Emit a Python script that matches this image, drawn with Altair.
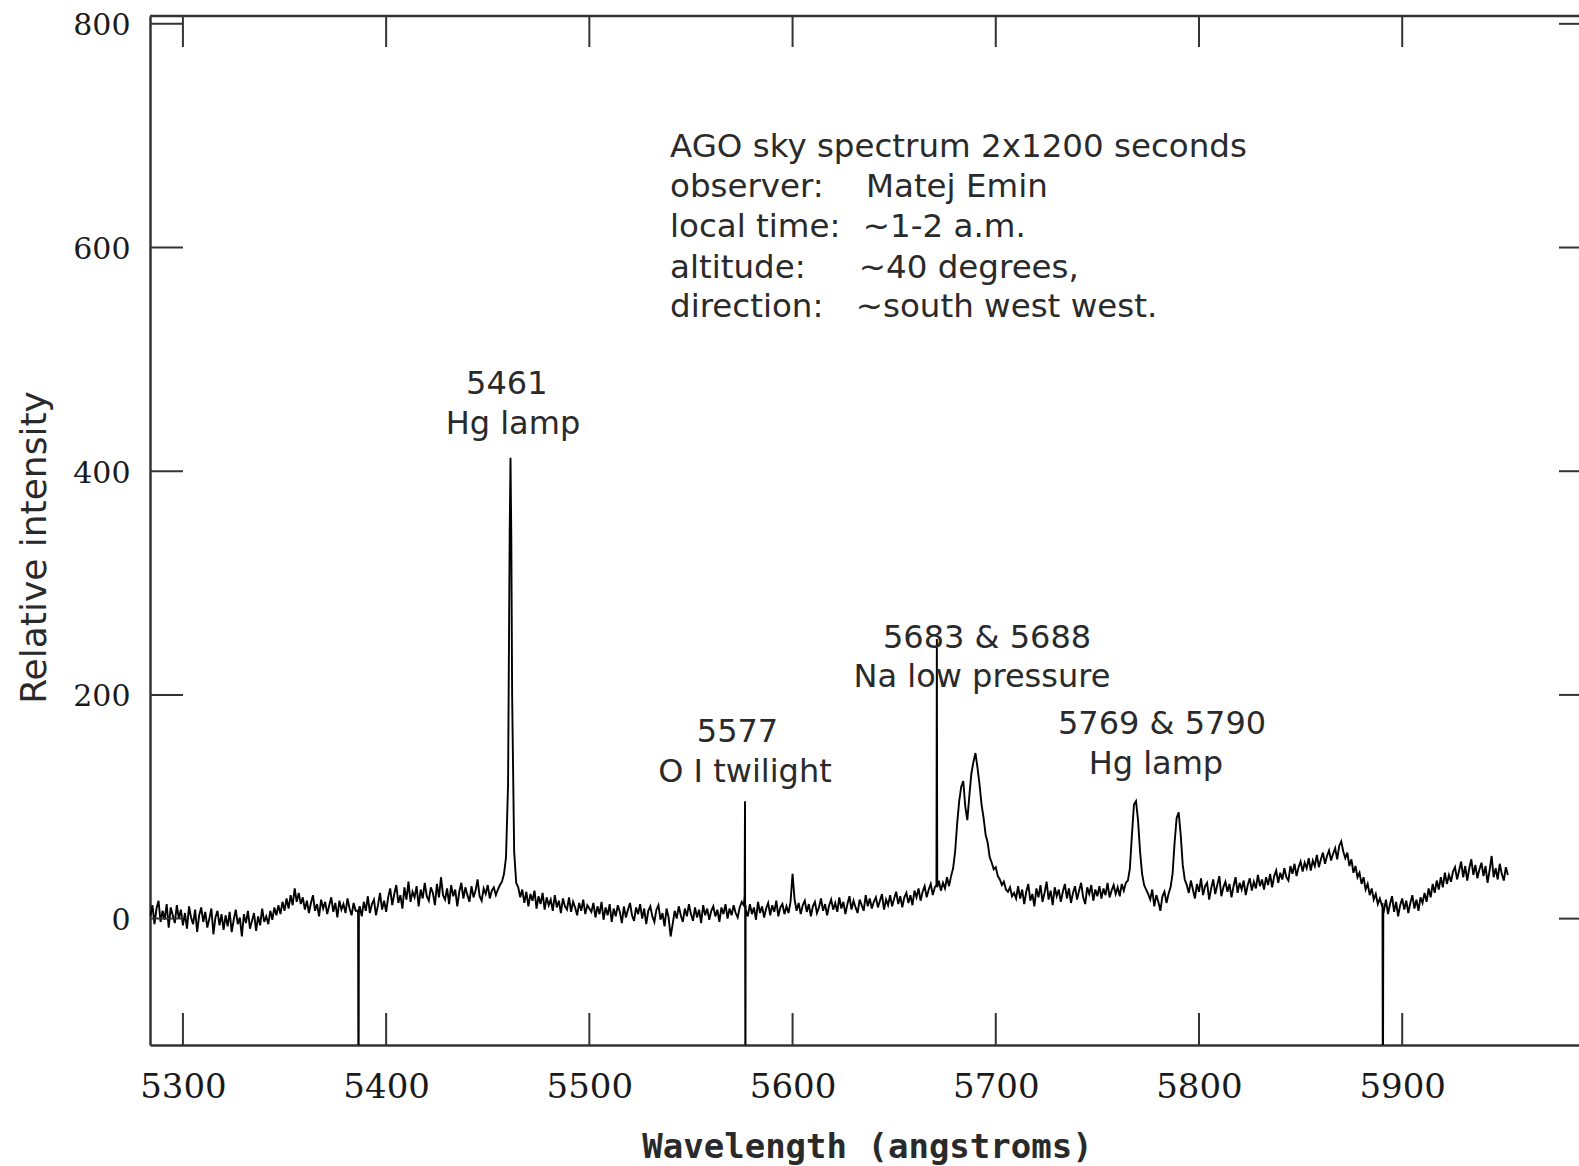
import altair as alt
import pandas as pd

# ---------------- data ----------------
# spectrum sampled every angstrom, one list per contiguous stretch (start wavelength, values)
seg_starts = [5284, 5301, 5321, 5341, 5359, 5387, 5401, 5421, 5441, 5458, 5462,
              5465, 5481, 5501, 5521, 5541, 5561, 5577, 5601, 5621, 5641, 5661,
              5672, 5711, 5731, 5751, 5766, 5775, 5787, 5795, 5815, 5831, 5851,
              5871, 5891, 5911, 5926]
seg_values = [
    [2, 12, -5, 9, 16, -3, 7, -1, 13, -8, 10, 3, -4, 12, 0, 8, -6],
    [5, -9, 11, 1, -5, 8, -12, 3, 10, -3, 6, -8, 0, 9, -14, 1, 7, -6, 4, -10],
    [3, -7, 6, -12, -1, 8, -5, 1, -16, 4, -4, 7, -9, -2, 5, -11, 2, -6, 9, -3],
    [2, -5, 7, -1, 10, 3, 12, 4, 15, 7, 18, 9, 21, 12, 27, 15, 23, 13],
    [19, 8, 16, 5, 14, 21, 7, 13, 2, 17, 9, 15, 4, 12, 19, 6, 14, 1, 16, 8,
     13, 5, 18, 9, 3, 14, 7, 7],
    [11, 2, 15, 7, 20, 5, 13, 17, 3, 12, 23, 8, 16, 6],
    [19, 27, 12, 22, 30, 14, 21, 9, 28, 17, 33, 15, 24, 19, 29, 11, 26, 18, 32, 20],
    [16, 28, 23, 12, 31, 19, 37, 21, 17, 27, 13, 30, 20, 26, 11, 24, 32, 18, 28, 21],
    [15, 29, 19, 25, 35, 20, 16, 27, 22, 30, 18, 25, 28, 21, 26, 30, 33],
    [40, 55, 120],
    [200, 60, 32],
    [28, 19, 26, 14, 24, 11, 22, 16, 25, 9, 20, 13, 23, 8, 19, 12],
    [17, 7, 21, 10, 16, 5, 18, 11, 8, 19, 6, 15, 10, 3, 14, 7, 17, 4, 12, 9],
    [6, 14, 1, 11, 4, 15, -1, 10, 3, 13, -3, 9, 2, 12, 6, -4, 11, 1, 8, 14],
    [3, -2, 10, 4, 13, 0, 9, -5, 7, 11, 2, -3, 8, 12, -1, 5, -7, 9, 1, -16],
    [-5, 7, 0, 11, 3, -3, 9, 2, 13, 4, -2, 10, 1, 8, -4, 12, 3, 9, -1, 7],
    [11, 2, 8, -3, 10, 4, 13, 0, 9, 3, 12, 5, 1, 10, 15, 12],
    [8, 2, 13, 4, 10, -1, 15, 5, 11, 1, 9, 14, 3, 12, 6, 16, 2, 10, 13, 4, 11, 5, 15, 40],
    [17, 7, 14, 4, 12, 16, 6, 13, 2, 11, 15, 5, 10, 18, 7, 13, 3, 12, 17, 8],
    [14, 6, 19, 9, 15, 4, 13, 20, 8, 16, 10, 5, 17, 12, 7, 21, 11, 18, 9, 15],
    [19, 10, 16, 22, 8, 17, 12, 21, 11, 18, 24, 13, 20, 10, 19, 23, 14, 21, 12, 25],
    [19, 27, 16, 24, 29, 19, 26, 31, 21, 28],
    [34, 25, 32, 27, 37, 29, 38, 45, 60, 85, 105, 118, 123, 100, 88, 110, 130, 140,
     148, 135, 120, 102, 90, 75, 68, 55, 50, 44, 46, 38, 35, 30, 33, 26, 24, 28, 20,
     23, 18],
    [29, 18, 26, 13, 24, 31, 16, 22, 11, 27, 19, 30, 15, 23, 33, 17, 25, 12, 28, 20],
    [26, 15, 24, 31, 18, 27, 14, 23, 29, 17, 25, 32, 19, 13, 28, 22, 30, 16, 26, 20],
    [29, 18, 27, 21, 32, 19, 25, 30, 22, 28, 20, 31, 25, 32, 34],
    [45, 75, 102, 105, 88, 60, 40, 30, 26],
    [22, 17, 26, 11, 21, 15, 7, 20, 24, 14, 22, 28],
    [40, 68, 90, 95, 75, 48, 35, 30],
    [23, 34, 26, 18, 31, 24, 36, 21, 29, 32, 17, 27, 35, 22, 30, 38, 20, 28, 33, 24],
    [31, 19, 29, 37, 23, 32, 26, 34, 21, 30, 36, 25, 33, 27, 39, 29],
    [35, 26, 37, 30, 40, 28, 38, 43, 32, 41, 35, 45, 37, 34, 47, 40, 49, 38, 46, 51],
    [42, 50, 45, 54, 43, 52, 47, 57, 46, 53, 59, 49, 56, 61, 52, 58, 63, 53, 65, 69],
    [60, 54, 59, 47, 53, 41, 47, 37, 41, 31, 37, 26, 31, 21, 27, 17, 22, 13, 18, 12],
    [7, 17, 4, 13, 20, 6, 15, 2, 12, 18, 8, 16, 5, 14, 21, 9, 17, 7, 19, 14],
    [23, 15, 27, 19, 31, 23, 34, 26, 37, 28, 41, 31, 39, 33, 42],
    [46, 35, 43, 51, 37, 47, 34, 45, 53, 39, 48, 36, 44, 50, 38, 47, 32, 43, 56, 37,
     45, 35, 49, 40, 34, 46, 39],
]
SAMPLE_STEP = 1

# narrow lines and dead columns (finer sampling)
feat_wl = [5386.2, 5386.4, 5386.6, 5460.8, 5461.2, 5461.6, 5576.4, 5576.6, 5576.8,
           5576.9, 5670.8, 5671.0, 5671.2, 5890.3, 5890.5, 5890.7]
feat_val = [5, -200, 8, 345, 412, 340, 20, 105, -200, 12, 30, 250, 28, 14, -200, 8]

x_tick_values = [5300, 5400, 5500, 5600, 5700, 5800, 5900]
y_tick_values = [0, 200, 400, 600, 800]

info_labels = ["AGO sky spectrum 2x1200 seconds", "observer:", "local time:",
               "altitude:", "direction:"]
info_label_wl = [5539.7, 5539.7, 5539.7, 5539.7, 5539.7]
info_label_val = [681, 645, 609, 573, 538]
info_values = ["Matej Emin", "~1-2 a.m.", "~40 degrees,", "~south west west."]
info_value_wl = [5636.1, 5634.6, 5632.6, 5631.1]
info_value_val = [645, 609, 573, 538]

line_label_text = ["5461", "Hg lamp", "5577", "O I twilight", "5683 & 5688",
                   "Na low pressure", "5769 & 5790", "Hg lamp"]
line_label_wl = [5459.4, 5462.4, 5572.9, 5576.6, 5695.7, 5693.2, 5781.8, 5778.8]
line_label_val = [469.1, 433.4, 157.9, 122.1, 242.0, 207.0, 165.2, 129.4]

# ---------------- tables ----------------
wl, val = [], []
for s, vals in zip(seg_starts, seg_values):
    for i, v in enumerate(vals):
        wl.append(s + SAMPLE_STEP * i)
        val.append(v)
wl += feat_wl
val += feat_val
spec_df = pd.DataFrame({"wl": wl, "val": val}).sort_values("wl").reset_index(drop=True)

info_df = pd.DataFrame({"wl": info_label_wl + info_value_wl,
                        "val": info_label_val + info_value_val,
                        "label": info_labels + info_values})
lines_df = pd.DataFrame({"wl": line_label_wl, "val": line_label_val, "label": line_label_text})
xt_df = pd.DataFrame({"wl": x_tick_values})
yt_df = pd.DataFrame({"val": y_tick_values})
one_df = pd.DataFrame({"a": [0]})

# ---------------- chart ----------------
W, H = 1429, 1029
AX = "#333333"
TXT = "#2a2a2a"
x_scale = alt.Scale(domain=[5283.8, 5987], nice=False, zero=False)
y_scale = alt.Scale(domain=[-113, 807], nice=False, zero=False)

x_axis = alt.Axis(values=x_tick_values, grid=False, ticks=False, tickSize=0,
                  domain=True, domainColor=AX, domainWidth=2.5,
                  labelFont="DejaVu Serif", labelFontSize=34, labelFontWeight=500,
                  labelColor="#1a1a1a", labelPadding=25, labelFlush=False,
                  labelOverlap=False, format="d",
                  title="Wavelength (angstroms)", titleFont="DejaVu Sans Mono",
                  titleFontWeight="bold", titleFontSize=34, titleColor=TXT,
                  titleX=717, titleY=112, titleBaseline="alphabetic", titleAlign="center")
y_axis = alt.Axis(values=y_tick_values, grid=False, ticks=False, tickSize=0,
                  domain=True, domainColor=AX, domainWidth=2.5,
                  labelFont="DejaVu Serif", labelFontSize=30, labelFontWeight=500,
                  labelColor="#1a1a1a", labelPadding=20, labelOffset=2, labelFlush=False,
                  labelOverlap=False, format="d",
                  title="Relative intensity", titleFont="DejaVu Sans",
                  titleFontWeight="normal", titleFontSize=36, titleColor=TXT,
                  titleAngle=270, titleX=-105, titleY=531,
                  titleBaseline="alphabetic", titleAlign="center")

X = alt.X("wl:Q", scale=x_scale, axis=x_axis)
Y = alt.Y("val:Q", scale=y_scale, axis=y_axis)

spectrum = alt.Chart(spec_df).mark_line(color="black", strokeWidth=1.9, clip=True).encode(
    x=X, y=Y)

bottom_ticks = alt.Chart(xt_df).mark_rule(color=AX, strokeWidth=2).encode(
    x=X, y=alt.value(H), y2=alt.value(H - 32))
top_ticks = alt.Chart(xt_df).mark_rule(color=AX, strokeWidth=2).encode(
    x=X, y=alt.value(0), y2=alt.value(31))
left_ticks = alt.Chart(yt_df).mark_rule(color=AX, strokeWidth=2).encode(
    y=Y, x=alt.value(0), x2=alt.value(33))
right_ticks = alt.Chart(yt_df).mark_rule(color=AX, strokeWidth=2).encode(
    y=Y, x=alt.value(W), x2=alt.value(W - 20))
top_border = alt.Chart(one_df).mark_rule(color=AX, strokeWidth=2.5).encode(
    x=alt.value(0), x2=alt.value(W), y=alt.value(0))

info_text = alt.Chart(info_df).mark_text(
    align="left", baseline="alphabetic", font="DejaVu Sans", fontSize=32.5, color=TXT
).encode(x=X, y=Y, text="label:N")
line_text = alt.Chart(lines_df).mark_text(
    align="center", baseline="alphabetic", font="DejaVu Sans", fontSize=32, color=TXT
).encode(x=X, y=Y, text="label:N")

chart = alt.layer(
    spectrum, bottom_ticks, top_ticks, left_ticks, right_ticks, top_border,
    info_text, line_text,
).properties(
    width=W, height=H,
    autosize=alt.AutoSizeParams(type="none"),
    padding={"left": 150, "top": 16, "right": 0, "bottom": 121},
    background="white",
).configure_view(stroke=None)

chart.save("out.html", embed_options={"renderer": "svg", "actions": False})
